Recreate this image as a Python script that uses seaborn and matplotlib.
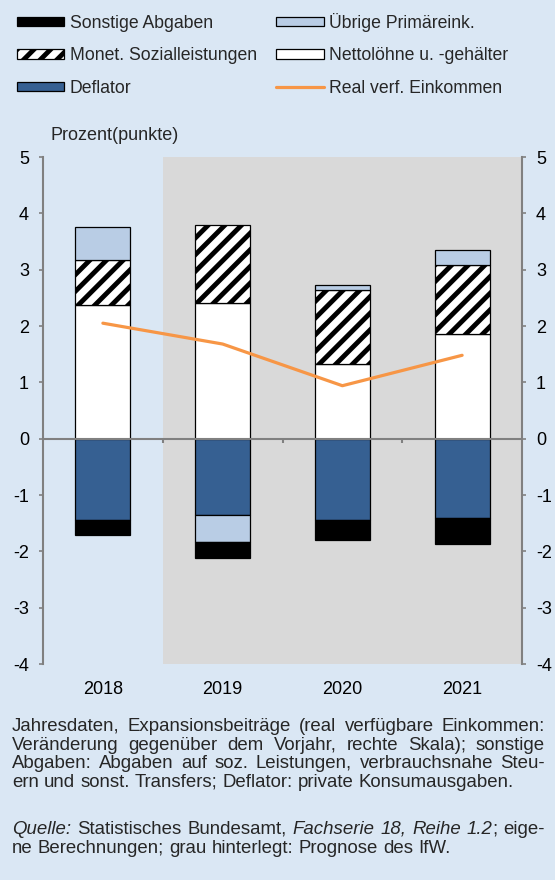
import math
import numpy as np
import pandas as pd
import matplotlib
matplotlib.use("Agg")
import matplotlib.pyplot as plt
import seaborn as sns
from matplotlib.backends.backend_agg import get_hinting_flag

# ---------------- data ----------------
years = ["2018", "2019", "2020", "2021"]
netto = [2.37, 2.41, 1.32, 1.86]          # Nettolöhne u. -gehälter
monet = [0.81, 1.38, 1.32, 1.22]          # Monet. Sozialleistungen
uebrige = [0.58, -0.49, 0.09, 0.27]       # Übrige Primäreink.
deflator = [-1.44, -1.35, -1.44, -1.40]   # Deflator
sonstige = [-0.27, -0.28, -0.35, -0.47]   # Sonstige Abgaben
real_einkommen = [2.05, 1.68, 0.94, 1.48] # Real verf. Einkommen
forecast_years = ["2019", "2020", "2021"]
y_ticks = [-4, -3, -2, -1, 0, 1, 2, 3, 4, 5]

# ---------------- style ----------------
BG = "#DAE7F4"
GRAY_BG = "#D9D9D9"
AXIS = "#808080"
C_DEFL = "#366092"
C_UEBR = "#B9CDE5"
C_ORANGE = "#F79646"

sns.set_style("white")
plt.rcParams["font.family"] = ["Liberation Sans", "DejaVu Sans"]
plt.rcParams["hatch.linewidth"] = 3.5
plt.rcParams["hatch.color"] = "black"

W, H = 555, 880
fig = plt.figure(figsize=(W / 100, H / 100), dpi=100, facecolor=BG)
ax = fig.add_axes([43 / W, 1 - 664 / H, (522 - 43) / W, (664 - 157) / H])
ax.set_facecolor(BG)

df = pd.DataFrame({
    "Jahr": years, "netto": netto, "monet": monet, "uebrige": uebrige,
    "deflator": deflator, "sonstige": sonstige, "real": real_einkommen,
})
n_arr = np.array(netto)
m_arr = np.array(monet)
u_arr = np.array(uebrige)
d_arr = np.array(deflator)
monet_bottom = n_arr
uebr_bottom = np.where(u_arr >= 0, n_arr + m_arr, d_arr)
sonst_bottom = d_arr + np.minimum(u_arr, 0)

common = dict(x="Jahr", data=df, ax=ax, order=years, width=0.46, saturation=1,
              errorbar=None, edgecolor="black", linewidth=0.9, zorder=2)

handles = {}
sns.barplot(y="netto", color="white", label="Nettolöhne u. -gehälter", **common)
handles["Nettolöhne u. -gehälter"] = ax.containers[-1]
sns.barplot(y="monet", bottom=monet_bottom, color="white", hatch="//",
            label="Monet. Sozialleistungen", **common)
handles["Monet. Sozialleistungen"] = ax.containers[-1]
sns.barplot(y="deflator", color=C_DEFL, label="Deflator", **common)
handles["Deflator"] = ax.containers[-1]
sns.barplot(y="uebrige", bottom=uebr_bottom, color=C_UEBR,
            label="Übrige Primäreink.", **common)
handles["Übrige Primäreink."] = ax.containers[-1]
sns.barplot(y="sonstige", bottom=sonst_bottom, color="black",
            label="Sonstige Abgaben", **common)
handles["Sonstige Abgaben"] = ax.containers[-1]

n_lines_before = len(ax.lines)
sns.lineplot(x="Jahr", y="real", data=df, ax=ax, color=C_ORANGE, linewidth=2.3,
             legend=False, zorder=4)
handles["Real verf. Einkommen"] = ax.lines[n_lines_before]
if ax.get_legend() is not None:
    ax.get_legend().remove()

# forecast shading
start = years.index(forecast_years[0]) - 0.5
end = years.index(forecast_years[-1]) + 0.5
ax.axvspan(start, end, color=GRAY_BG, zorder=0, lw=0)

ax.set_xlim(-0.5, len(years) - 0.5)
ax.set_ylim(y_ticks[0], y_ticks[-1])
ax.set_yticks(y_ticks)
ax.set_yticklabels([str(v) for v in y_ticks])
ax.set_xlabel("")
ax.set_ylabel("")

# axes / spines
for s in ["top", "bottom"]:
    ax.spines[s].set_visible(False)
for s in ["left", "right"]:
    ax.spines[s].set_color(AXIS)
    ax.spines[s].set_linewidth(1.5)
ax.axhline(0, color=AXIS, lw=1.5, zorder=3)
bounds = np.arange(len(years) - 1) + 0.5
ax.vlines(bounds, 0, -0.075, color=AXIS, lw=1.5, zorder=3)

ax.tick_params(axis="y", which="major", left=True, right=True, labelleft=True,
               labelright=True, direction="out", length=3, width=1.2,
               color=AXIS, labelsize=13, labelcolor="black", pad=7)
ax.tick_params(axis="x", length=0, labelsize=13, pad=12, labelcolor="black")
ax.grid(False)

fig.text(50 / W, 1 - 136 / H, "Prozent(punkte)", fontsize=13, va="center", ha="left")

# legend
order = ["Sonstige Abgaben", "Monet. Sozialleistungen", "Deflator",
         "Übrige Primäreink.", "Nettolöhne u. -gehälter", "Real verf. Einkommen"]
leg = fig.legend([handles[k] for k in order], order, ncol=2, loc="upper left",
                 bbox_to_anchor=(17 / W, 1 - 13 / H), frameon=False, fontsize=12.7,
                 handlelength=2.67, handleheight=0.45, handletextpad=0.33,
                 columnspacing=1.1, labelspacing=0.87, borderpad=0, borderaxespad=0)

# ---------------- footnote (justified) ----------------
FS = 13.4
N, I = "normal", "italic"
lines = [
    ([[("Jahresdaten,", N)], [("Expansionsbeiträge", N)], [("(real", N)], [("verfügbare", N)], [("Einkommen:", N)]], True, 731),
    ([[("Veränderung", N)], [("gegenüber", N)], [("dem", N)], [("Vorjahr,", N)], [("rechte", N)], [("Skala);", N)], [("sonstige", N)]], True, 750),
    ([[("Abgaben:", N)], [("Abgaben", N)], [("auf", N)], [("soz.", N)], [("Leistungen,", N)], [("verbrauchsnahe", N)], [("Steu-", N)]], True, 768),
    ([[("ern", N)], [("und", N)], [("sonst.", N)], [("Transfers;", N)], [("Deflator:", N)], [("private", N)], [("Konsumausgaben.", N)]], False, 787),
    ([[("Quelle:", I)], [("Statistisches", N)], [("Bundesamt,", N)], [("Fachserie", I)], [("18,", I)], [("Reihe", I)], [("1.2", I), (";", N)], [("eige-", N)]], True, 834),
    ([[("ne", N)], [("Berechnungen;", N)], [("grau", N)], [("hinterlegt:", N)], [("Prognose", N)], [("des", N)], [("IfW.", N)]], False, 853),
]
X0, X1 = 12, 545
renderer = fig.canvas.get_renderer()

def _w(txt, st):
    t = fig.text(0, 0, txt, fontsize=FS, style=st)
    w = t.get_window_extent(renderer).width
    t.remove()
    return w

def _baseline_y(txt, prop, target):
    """pixel y so that every word's glyph baseline lands on the same row."""
    try:
        font = renderer._prepare_font(prop)
        font.set_text(txt, 0, flags=get_hinting_flag())
        D = font.get_descent() / 64.0
        _, hh = font.get_width_height()
        ymax = hh / 64.0 - D
        return target + math.floor(ymax + D) - math.floor(ymax) - D
    except Exception:
        return target

space_w = _w("a a", N) - _w("aa", N)
for words, justify, ypx in lines:
    seg_w = [[_w(txt, st) for txt, st in word] for word in words]
    word_w = [sum(s) for s in seg_w]
    if justify and len(words) > 1:
        gap = (X1 - X0 - sum(word_w)) / (len(words) - 1)
    else:
        gap = space_w
    x = X0
    for word, sw in zip(words, seg_w):
        xx = x
        for (txt, st), w in zip(word, sw):
            t = fig.text(xx / W, 0.5, txt, fontsize=FS, style=st,
                         va="baseline", ha="left")
            yb = _baseline_y(txt, t.get_fontproperties(), ypx)
            t.set_y((H - yb) / H)
            xx += w
        x += sum(sw) + gap

fig.savefig("out.png", dpi=100, facecolor=BG)
